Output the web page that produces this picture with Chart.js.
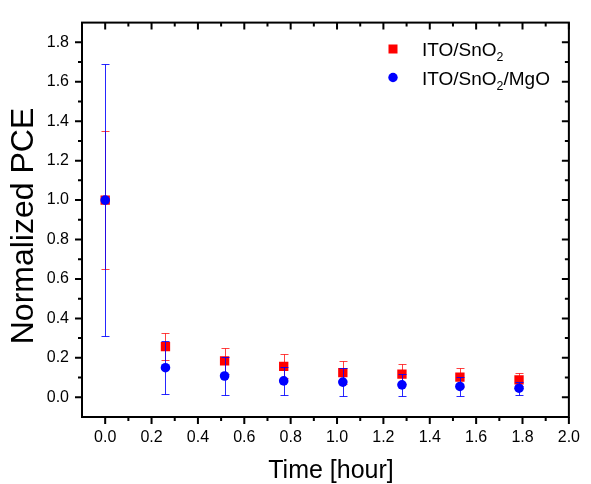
<!DOCTYPE html>
<html>
<head>
<meta charset="utf-8">
<script src="https://cdn.jsdelivr.net/npm/chart.js@4.4.0/dist/chart.umd.min.js"></script>
<style>
  html, body { margin: 0; padding: 0; background: #fff; }
  canvas { display: block; }
</style>
</head>
<body>
<canvas id="pceChart" width="591" height="484"></canvas>
<script>
// values
const timeHours = [0, 0.26, 0.515, 0.77, 1.025, 1.28, 1.53, 1.785];
const snoValues = [1.0, 0.257, 0.185, 0.157, 0.125, 0.117, 0.102, 0.088];
const snoErrors = [0.352, 0.067, 0.067, 0.06, 0.06, 0.05, 0.049, 0.033];
const mgoValues = [1.0, 0.15, 0.108, 0.083, 0.077, 0.063, 0.055, 0.046];
const mgoErrors = [0.69, 0.135, 0.097, 0.072, 0.069, 0.055, 0.047, 0.034];
const seriesLabels = ['ITO/SnO_2', 'ITO/SnO_2/MgO'];
const xTicks = [0, 0.2, 0.4, 0.6, 0.8, 1.0, 1.2, 1.4, 1.6, 1.8, 2.0];
const yTicks = [0, 0.2, 0.4, 0.6, 0.8, 1.0, 1.2, 1.4, 1.6, 1.8];
const xTitle = 'Time [hour]';
const yTitle = 'Normalized PCE';

const FONT = '"Liberation Sans", Arial, sans-serif';

// draws "abc_2def" with the char after _ as subscript
function drawSubText(ctx, text, x, y, size) {
  const parts = text.split(/_(\d)/);
  parts.forEach((part, i) => {
    if (!part) return;
    const sub = i % 2 === 1;
    ctx.font = (sub ? size * 0.65 : size) + 'px ' + FONT;
    ctx.fillText(part, x, sub ? y + size * 0.28 : y);
    x += ctx.measureText(part).width;
  });
}

const errorBars = {
  id: 'errorBars',
  beforeDatasetDraw(chart, args) {
    const ds = chart.data.datasets[args.index];
    const { ctx, scales: { x, y } } = chart;
    ctx.save();
    ctx.strokeStyle = ds.errColor;
    ctx.lineWidth = 1;
    ctx.beginPath();
    ds.data.forEach((p, i) => {
      const px = Math.round(x.getPixelForValue(p.x)) + 0.5;
      const top = Math.round(y.getPixelForValue(p.y + ds.errs[i])) + 0.5;
      const bot = Math.round(y.getPixelForValue(p.y - ds.errs[i])) + 0.5;
      ctx.moveTo(px, top); ctx.lineTo(px, bot);
      ctx.moveTo(px - 4, top); ctx.lineTo(px + 4, top);
      ctx.moveTo(px - 4, bot); ctx.lineTo(px + 4, bot);
    });
    ctx.stroke();
    ctx.restore();
  }
};

const frame = {
  id: 'frame',
  afterDraw(chart) {
    const { ctx, chartArea: a, scales: { x, y } } = chart;
    ctx.save();
    ctx.strokeStyle = '#000';
    ctx.lineWidth = 2;
    ctx.strokeRect(a.left, a.top, a.right - a.left, a.bottom - a.top);

    const xMinor = xTicks.slice(0, -1).map(v => v + 0.1);
    const yMinor = yTicks.map(v => v + 0.1).filter(v => v < y.max - 1e-6);
    ctx.beginPath();
    const xt = (vals, len) => vals.forEach(v => {
      const px = x.getPixelForValue(v);
      ctx.moveTo(px, a.bottom); ctx.lineTo(px, a.bottom + len);
      ctx.moveTo(px, a.top); ctx.lineTo(px, a.top + len);
    });
    const yt = (vals, len) => vals.forEach(v => {
      const py = y.getPixelForValue(v);
      ctx.moveTo(a.left, py); ctx.lineTo(a.left - len, py);
      ctx.moveTo(a.right, py); ctx.lineTo(a.right - len, py);
    });
    xt(xTicks, 7); xt(xMinor, 4);
    yt(yTicks, 7); yt(yMinor, 4);
    ctx.stroke();

    // axis titles
    ctx.fillStyle = '#000';
    ctx.textAlign = 'center';
    ctx.textBaseline = 'alphabetic';
    ctx.font = '25px ' + FONT;
    ctx.fillText(xTitle, 331, 478);
    ctx.save();
    ctx.translate(33, 226);
    ctx.rotate(-Math.PI / 2);
    ctx.font = '32px ' + FONT;
    ctx.fillText(yTitle, 0, 0);
    ctx.restore();

    // legend
    ctx.textAlign = 'left';
    const rows = [49, 77.5];
    chart.data.datasets.forEach((ds, i) => {
      const cy = rows[i];
      ctx.fillStyle = ds.backgroundColor;
      if (ds.pointStyle === 'rect') {
        ctx.fillRect(388.5, cy - 4.5, 9, 9);
      } else {
        ctx.beginPath(); ctx.arc(393, cy, 4.7, 0, Math.PI * 2); ctx.fill();
      }
      ctx.fillStyle = '#000';
      drawSubText(ctx, seriesLabels[i], 422, cy + 7, 19);
    });
    ctx.restore();
  }
};

const tickFont = { family: FONT, size: 16 };

new Chart(document.getElementById('pceChart'), {
  type: 'scatter',
  data: {
    datasets: [
      {
        label: 'ITO/SnO₂',
        data: timeHours.map((t, i) => ({ x: t, y: snoValues[i] })),
        errs: snoErrors,
        errColor: 'rgba(255, 0, 0, 0.75)',
        backgroundColor: '#ff0000',
        borderWidth: 0,
        pointStyle: 'rect',
        pointRadius: 6.6,
        order: 1
      },
      {
        label: 'ITO/SnO₂/MgO',
        data: timeHours.map((t, i) => ({ x: t, y: mgoValues[i] })),
        errs: mgoErrors,
        errColor: 'rgba(0, 0, 255, 0.85)',
        backgroundColor: '#0000ff',
        borderWidth: 0,
        pointStyle: 'circle',
        pointRadius: 4.8,
        order: 0
      }
    ]
  },
  options: {
    responsive: false,
    animation: false,
    devicePixelRatio: 1,
    layout: { padding: { top: 15, right: 13, left: 0, bottom: 0 } },
    plugins: { legend: { display: false }, tooltip: { enabled: false } },
    scales: {
      x: {
        type: 'linear', min: -0.1, max: 2.0,
        afterFit: s => { s.height = 67; },
        afterBuildTicks: s => { s.ticks = xTicks.map(v => ({ value: v })); },
        grid: { display: false, drawTicks: false },
        border: { display: false },
        ticks: { padding: 11, font: tickFont, color: '#000', maxRotation: 0, autoSkip: false,
                 callback: v => Number(v).toFixed(1) }
      },
      y: {
        type: 'linear', min: -0.1, max: 1.9,
        afterFit: s => { s.width = 82; },
        afterBuildTicks: s => { s.ticks = yTicks.map(v => ({ value: v })); },
        grid: { display: false, drawTicks: false },
        border: { display: false },
        ticks: { padding: 13, font: tickFont, color: '#000', autoSkip: false,
                 callback: v => Number(v).toFixed(1) }
      }
    }
  },
  plugins: [errorBars, frame]
});
</script>
</body>
</html>
